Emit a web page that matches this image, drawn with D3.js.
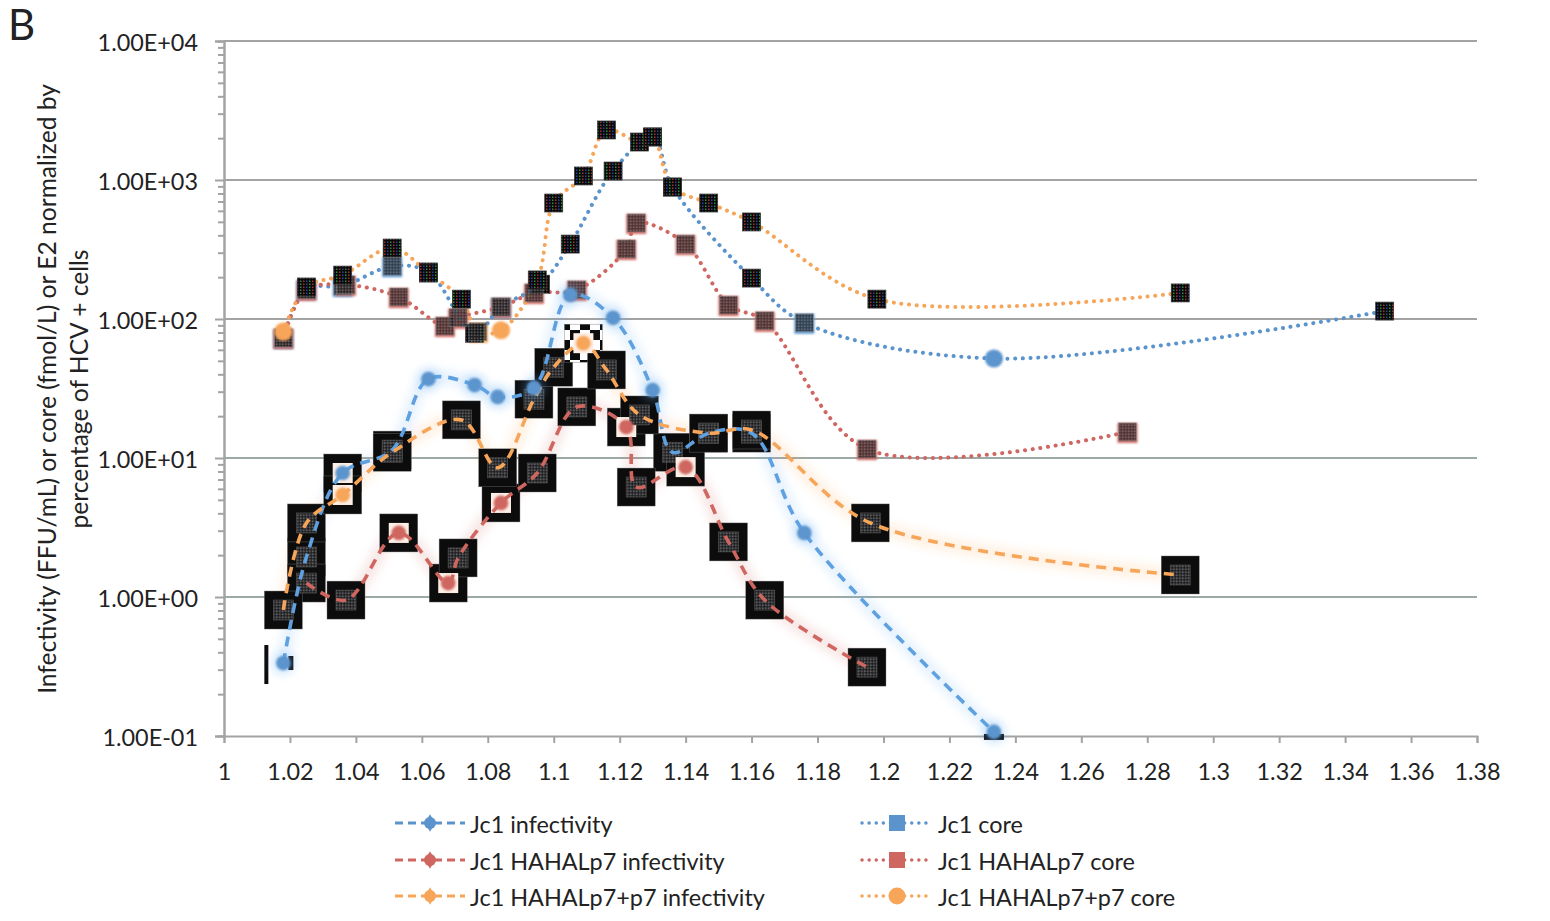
<!DOCTYPE html>
<html><head><meta charset="utf-8">
<script src="https://cdn.jsdelivr.net/npm/d3@7"></script>
<style>html,body{margin:0;background:#fff}svg{display:block}text{font-family:Lato,"Open Sans",sans-serif;fill:#222}</style>
</head><body><svg id="c" width="1550" height="921"></svg>
<script>
const names=["Jc1 infectivity","Jc1 HAHALp7 infectivity","Jc1 HAHALp7+p7 infectivity","Jc1 core","Jc1 HAHALp7 core","Jc1 HAHALp7+p7 core"];
const colors=["#5b94cd","#cf6660","#f7a558","#5b94cd","#cf6660","#f7a558"];
const glow=["#63aef5","#cf6660","#ffa64f"];
const xTicks=[1,1.02,1.04,1.06,1.08,1.1,1.12,1.14,1.16,1.18,1.2,1.22,1.24,1.26,1.28,1.3,1.32,1.34,1.36,1.38];
const yTicks=[0.1,1,10,100,1000,10000];
const yMinor=[2,3,4,5,6,7,8,9];

const jc1InfX=[1.018,1.025,1.036,1.051,1.062,1.076,1.083,1.094,1.105,1.118,1.130,1.136,1.147,1.160,1.176,1.2335];
const jc1InfY=[0.335,1.94,7.8,11.4,37,33.5,27.5,31.9,149,102,30.8,11,15.1,15.1,2.89,0.107];
const hahaInfX=[1.025,1.037,1.053,1.068,1.071,1.084,1.095,1.107,1.122,1.125,1.140,1.153,1.164,1.195];
const hahaInfY=[1.26,0.95,2.89,1.26,1.91,4.75,7.8,23.3,16.7,6.18,8.6,2.49,0.95,0.313];
const p7InfX=[1.018,1.025,1.036,1.051,1.072,1.083,1.094,1.100,1.109,1.116,1.126,1.147,1.160,1.196,1.290];
const p7InfY=[0.806,3.41,5.42,11,18.8,8.5,26.5,45,67,43,20.4,15.1,15.9,3.41,1.44];
const jc1CoreX=[1.018,1.025,1.036,1.051,1.062,1.076,1.084,1.096,1.105,1.118,1.130,1.136,1.160,1.176,1.2335,1.352];
const jc1CoreY=[73,164,173,240,218,79,122,178,346,1160,2040,890,197,94,52,114];
const hahaCoreX=[1.018,1.025,1.037,1.053,1.067,1.071,1.084,1.094,1.107,1.122,1.125,1.140,1.153,1.164,1.195,1.274];
const hahaCoreY=[73,162,176,144,89,102,122,154,162,319,491,346,126,97,11.6,15.4];
const p7CoreX=[1.018,1.025,1.036,1.051,1.062,1.072,1.077,1.084,1.095,1.100,1.109,1.116,1.126,1.130,1.136,1.147,1.160,1.198,1.290];
const p7CoreY=[81,170,207,324,214,139,81,83,191,683,1069,2290,1876,2040,890,683,499,139,154];

// marker look per point: 0 plain blob, 1 black box with noise, 2 black box with blob on white, 3 checkered box with blob, 4 blob with dark bar beside it
const jc1InfLook=[4,1,2,1,0,0,0,0,0,0,0,1,1,1,0,5];
const hahaInfLook=[1,1,2,2,1,2,1,1,2,1,2,1,1,1];
const p7InfLook=[1,1,2,1,1,1,1,1,3,1,1,1,1,1,1];
// core look: d dark noise, g grey noise over the series colour, b coloured blob
const jc1CoreLook="ggggddgddddddgbd";
const hahaCoreLook="gggggggggggggggg";
const p7CoreLook="bdddddgbddddddddddd";

const svg=d3.select("#c");
const x=d3.scaleLinear().domain([1,1.38]).range([224,1477]);
const y=d3.scaleLog().domain([0.1,10000]).range([736,41]);
const defs=svg.append("defs");
defs.append("filter").attr("id","halo").attr("x","-20%").attr("y","-20%").attr("width","140%").attr("height","140%")
  .append("feGaussianBlur").attr("stdDeviation",6);
defs.append("filter").attr("id","soft").attr("x","-60%").attr("y","-60%").attr("width","220%").attr("height","220%")
  .append("feGaussianBlur").attr("stdDeviation",0.9);
defs.append("filter").attr("id","spot").attr("x","-100%").attr("y","-100%").attr("width","300%").attr("height","300%")
  .append("feGaussianBlur").attr("stdDeviation",4.5);
function noise(id,bg,cols,n){
  const p=defs.append("pattern").attr("id",id).attr("width",n*cols.length).attr("height",n*2).attr("patternUnits","userSpaceOnUse");
  p.append("rect").attr("width",n*cols.length).attr("height",n*2).attr("fill",bg);
  cols.forEach((c,i)=>{p.append("rect").attr("x",i*n).attr("y",i%2?0:n).attr("width",n).attr("height",n).attr("fill",c);});
}
noise("nd","#0a0a0a",["#26409f","#0a0a0a","#2f8a3f","#0a0a0a","#a32f2f","#0a0a0a"],1.5);
noise("ng","#303134",["#5e5e62","#1c1c1c","#5a5250","#222225"],1.5);
const chk=defs.append("pattern").attr("id","chk").attr("width",20).attr("height",20).attr("patternUnits","userSpaceOnUse");
chk.append("rect").attr("width",20).attr("height",20).attr("fill","#fff");
chk.append("rect").attr("width",10).attr("height",10).attr("fill","#0c0c0c");
chk.append("rect").attr("x",10).attr("y",10).attr("width",10).attr("height",10).attr("fill","#0c0c0c");

// gridlines and axes
svg.append("g").selectAll("line").data(yTicks.slice(1)).join("line")
  .attr("x1",224).attr("x2",1477).attr("y1",d=>y(d)).attr("y2",d=>y(d))
  .attr("stroke",d=>d<=10?"#9ca9a6":"#a3a3a3").attr("stroke-width",2);
const ax=svg.append("g").attr("transform","translate(0,736)")
  .call(d3.axisBottom(x).tickValues(xTicks).tickFormat(d3.format(".2~f")).tickSize(7).tickPadding(20));
const ay=svg.append("g").attr("transform","translate(224,0)")
  .call(d3.axisLeft(y).tickValues(yTicks).tickFormat(d=>{const e=Math.round(Math.log10(d));return "1.00E"+(e<0?"-":"+")+String(Math.abs(e)).padStart(2,"0");}).tickSize(9).tickPadding(17));
const minorVals=yTicks.slice(0,-1).flatMap(t=>yMinor.map(m=>t*m));
const am=svg.append("g").attr("transform","translate(224,0)")
  .call(d3.axisLeft(y).tickValues(minorVals).tickFormat("").tickSize(6));
[ax,ay,am].forEach(g=>{g.selectAll("path,line").attr("stroke","#a3a3a3").attr("stroke-width",2);
  g.selectAll("text").style("font-size","23.4px").attr("fill","#222");});
ay.selectAll("text").attr("dy","0.42em");

const ser=[
 {i:0,xs:jc1InfX,ys:jc1InfY,look:jc1InfLook},
 {i:1,xs:hahaInfX,ys:hahaInfY,look:hahaInfLook},
 {i:2,xs:p7InfX,ys:p7InfY,look:p7InfLook}];
const cor=[
 {i:3,xs:jc1CoreX,ys:jc1CoreY,look:jc1CoreLook},
 {i:4,xs:hahaCoreX,ys:hahaCoreY,look:hahaCoreLook},
 {i:5,xs:p7CoreX,ys:p7CoreY,look:p7CoreLook}];
const pts=s=>s.xs.map((v,k)=>({x:v,y:s.ys[k],look:s.look[k]}));
const line=d3.line().x(d=>x(d.x)).y(d=>y(d.y)).curve(d3.curveCatmullRom.alpha(0.5));
const boxed=l=>l>=1&&l<=3;

// soft halos
const gh=svg.append("g").attr("filter","url(#halo)").attr("opacity",0.24);
ser.forEach(s=>gh.append("path").attr("d",line(pts(s))).attr("fill","none").attr("stroke",glow[s.i]).attr("stroke-width",9));

// black boxes
const B=38,I=18;
ser.forEach(s=>{
  const p=pts(s).filter(d=>boxed(d.look));
  svg.append("g").selectAll("rect").data(p).join("rect")
    .attr("x",d=>x(d.x)-B/2).attr("y",d=>y(d.y)-B/2).attr("width",B).attr("height",B)
    .attr("fill",d=>d.look===3?"url(#chk)":"#0c0c0c").attr("stroke","#777").attr("stroke-width",0.4);
});
ser.forEach(s=>{
  svg.append("g").selectAll("rect").data(pts(s).filter(d=>boxed(d.look))).join("rect")
    .attr("x",d=>x(d.x)-I/2-1).attr("y",d=>y(d.y)-I/2-1).attr("width",I+2).attr("height",I+2)
    .attr("fill",d=>d.look>=2?"#fdeee6":"url(#ng)").attr("stroke","#555").attr("stroke-width",d=>d.look>=2?0:0.6);
});
// stray dark bars next to some blobs
ser.forEach(s=>{
  const g=svg.append("g").attr("fill","#0c0c0c");
  pts(s).filter(d=>d.look===4).forEach(d=>{
    g.append("rect").attr("x",x(d.x)-19).attr("y",y(d.y)-18).attr("width",4).attr("height",39);
    g.append("rect").attr("x",x(d.x)+5).attr("y",y(d.y)-7).attr("width",5).attr("height",14);
  });
  pts(s).filter(d=>d.look===5).forEach(d=>{
    g.append("rect").attr("x",x(d.x)-10).attr("y",y(d.y)+2).attr("width",20).attr("height",6);
  });
});

// colour under grey core markers
cor.forEach(s=>{
  svg.append("g").selectAll("rect").data(pts(s).filter(d=>d.look==="g")).join("rect")
    .attr("x",d=>x(d.x)-10).attr("y",d=>y(d.y)-9).attr("width",20).attr("height",20)
    .attr("fill",colors[s.i]).attr("filter","url(#soft)");
});
// core lines
cor.forEach(s=>svg.append("path").attr("d",line(pts(s))).attr("fill","none").attr("stroke",colors[s.i])
  .attr("stroke-width",4).attr("stroke-linecap","round").attr("stroke-dasharray","0.1 7.6"));
// core markers
cor.forEach(s=>{
  const g=svg.append("g");
  g.selectAll("path").data(pts(s).filter(d=>d.look==="b")).join("path")
    .attr("transform",d=>`translate(${x(d.x)},${y(d.y)})`).attr("d",d3.symbol().type(d3.symbolCircle).size(260))
    .attr("fill",colors[s.i]).attr("filter","url(#soft)");
  g.selectAll("rect").data(pts(s).filter(d=>d.look!=="b")).join("rect")
    .attr("x",d=>x(d.x)-9).attr("y",d=>y(d.y)-9).attr("width",18).attr("height",18)
    .attr("fill",d=>d.look==="d"?"url(#nd)":"url(#ng)").attr("opacity",d=>d.look==="g"?0.72:1)
    .attr("stroke",d=>d.look==="d"?"#333":"#888").attr("stroke-width",0.7);
});
// infectivity lines
ser.forEach(s=>svg.append("path").attr("d",line(pts(s))).attr("fill","none").attr("stroke",s.i===0?"#5ea0e0":colors[s.i])
  .attr("stroke-width",3.6).attr("stroke-dasharray","10 7"));
// infectivity blobs
ser.forEach(s=>{
  const p=pts(s).filter(d=>!boxed(d.look)||d.look>=2);
  const g=svg.append("g");
  g.selectAll("circle").data(p.filter(d=>d.look!==2&&d.look!==3)).join("circle")
    .attr("cx",d=>x(d.x)).attr("cy",d=>y(d.y)).attr("r",12).attr("fill",glow[s.i]).attr("opacity",0.25).attr("filter","url(#spot)");
  g.selectAll("path").data(p).join("path")
    .attr("transform",d=>`translate(${x(d.x)},${y(d.y)})`).attr("d",d3.symbol().type(d3.symbolCircle).size(170))
    .attr("fill",colors[s.i]).attr("filter","url(#soft)");
});

// legend
const legX=[395,862],legT=[470,938],legY=[825,862,898];
names.forEach((n,i)=>{
  const c=i<3?0:1,r=i%3,yy=legY[r];
  const g=svg.append("g");
  g.append("line").attr("x1",legX[c]).attr("x2",legX[c]+(c?68:70)).attr("y1",yy-2).attr("y2",yy-2)
    .attr("stroke",colors[i]).attr("stroke-width",c?3.4:2.8)
    .attr("stroke-linecap",c?"round":"butt").attr("stroke-dasharray",c?"0.1 7":"8 5");
  if(c){
    if(i===5) g.append("circle").attr("cx",897).attr("cy",yy-2).attr("r",8.5).attr("fill",colors[i]);
    else g.append("rect").attr("x",889).attr("y",yy-10).attr("width",16).attr("height",16).attr("fill",colors[i]);
  } else {
    g.append("path").attr("transform",`translate(430,${yy-2})`).attr("d",d3.symbol().type(d3.symbolDiamond).size(90)).attr("fill",colors[i]);
    g.append("circle").attr("cx",430).attr("cy",yy-2).attr("r",6).attr("fill",colors[i]);
  }
  g.append("text").attr("x",legT[c]).attr("y",yy+8).style("font-size","23.4px").text(n);
});

// titles
svg.append("text").attr("x",8).attr("y",40).style("font-size","42px").text("B");
[["Infectivity (FFU/mL) or core (fmol/L) or E2 normalized by",56],["percentage of HCV + cells",88]].forEach(([t,px])=>{
  svg.append("text").attr("transform",`translate(${px},389) rotate(-90)`).attr("text-anchor","middle").style("font-size","24.6px").text(t);
});
</script></body></html>
